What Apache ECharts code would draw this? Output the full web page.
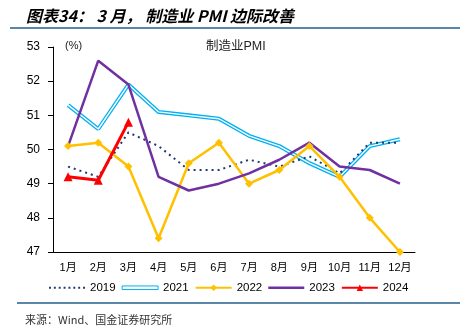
<!DOCTYPE html>
<html><head><meta charset="utf-8">
<script src="https://cdn.jsdelivr.net/npm/echarts@6/dist/echarts.min.js"></script>
<style>html,body{margin:0;padding:0;background:#fff}#c{width:460px;height:330px}</style>
</head><body><div id="c"></div>
<script>
const months = ['1月','2月','3月','4月','5月','6月','7月','8月','9月','10月','11月','12月'];
const yTicks = [47,48,49,50,51,52,53];
const s2019 = [49.5,49.2,50.5,50.1,49.4,49.4,49.7,49.5,49.8,49.3,50.2,50.2];
const s2021 = [51.3,50.6,51.9,51.1,51.0,50.9,50.4,50.1,49.6,49.2,50.1,50.3];
const s2022 = [50.1,50.2,49.5,47.4,49.6,50.2,49.0,49.4,50.1,49.2,48.0,47.0];
const s2023 = [50.1,52.6,51.9,49.2,48.8,49.0,49.3,49.7,50.2,49.5,49.4,49.0];
const s2024 = [49.2,49.1,50.8];

let dots = '';
for (let i = 0; i < 8; i++) dots += 'M' + (i*5) + ',0h2v2h-2z';
const chart = echarts.init(document.getElementById('c'), null, {renderer:'canvas'});
const font = 'Arial, "Liberation Sans", "Noto Sans CJK SC", sans-serif';
chart.setOption({
  animation:false,
  backgroundColor:'#fff',
  textStyle:{fontFamily:font},
  title:[
    {text:'图表34： 3 月， 制造业 PMI 边际改善', left:21, top:3,
     textStyle:{fontSize:16, fontWeight:'bold', fontStyle:'italic', color:'#000', fontFamily:'"Noto Sans CJK SC", sans-serif'}},
    {text:'制造业PMI', left:201, top:35, textStyle:{fontSize:12.5, fontWeight:'normal', color:'#222', fontFamily:font}},
    {text:'(%)', left:60, top:35, textStyle:{fontSize:11, fontWeight:'normal', color:'#222', fontFamily:font}},
    {text:'来源：Wind、国金证券研究所', left:20, top:309, textStyle:{fontSize:11, fontWeight:'normal', color:'#333', fontFamily:'"Noto Sans CJK SC", monospace'}}
  ],
  graphic:[
    {type:'line', shape:{x1:10,y1:28,x2:460,y2:28}, style:{stroke:'#5A86A8', lineWidth:2}},
    {type:'line', shape:{x1:17,y1:303,x2:460,y2:303}, style:{stroke:'#5A86A8', lineWidth:2}}
  ],
  grid:{left:53, right:45, top:47, bottom:78},
  legend:{
    top:277, left:44, itemWidth:36, itemHeight:8, itemGap:6,
    textStyle:{fontSize:11.5, color:'#000'},
    data:[
      {name:'2019', icon:'path://' + dots, itemStyle:{color:'#1F3A6E'}},
      {name:'2021', icon:'path://M0,0H40V4H0Z', itemStyle:{color:'#fff', borderColor:'#00B0F0', borderWidth:1}},
      {name:'2022'},
      {name:'2023', icon:'path://M0,0H40V3H0Z', itemStyle:{color:'#7030A0'}},
      {name:'2024'}
    ]
  },
  xAxis:{type:'category', data:months, boundaryGap:true,
    axisLine:{lineStyle:{color:'#000'}},
    axisTick:{alignWithLabel:false, length:5, interval:0, lineStyle:{color:'#000'}},
    axisLabel:{fontSize:11, color:'#000', margin:10, interval:0}},
  yAxis:{type:'value', min:47, max:53, interval:1,
    axisLine:{show:true, lineStyle:{color:'#000'}},
    axisTick:{show:true, length:5, lineStyle:{color:'#000'}},
    axisLabel:{fontSize:12, color:'#000', margin:13},
    splitLine:{show:false}},
  series:[
    {name:'2019', type:'line', data:s2019, symbol:'none', z:3,
     lineStyle:{color:'#1F3A6E', width:2, type:[2,4]}, itemStyle:{color:'#1F3A6E'}},
    {name:'2021', type:'line', data:s2021, symbol:'none', z:2,
     lineStyle:{color:'#00B0F0', width:4}, itemStyle:{color:'#00B0F0'}},
    {name:'2021w', type:'line', data:s2021, symbol:'none', z:2, silent:true,
     lineStyle:{color:'#fff', width:1.4}},
    {name:'2022', type:'line', data:s2022, symbol:'diamond', symbolSize:8, z:4,
     lineStyle:{color:'#FFC000', width:2.5}, itemStyle:{color:'#FFC000'}},
    {name:'2023', type:'line', data:s2023, symbol:'none', z:4,
     lineStyle:{color:'#7030A0', width:2.5}, itemStyle:{color:'#7030A0'}},
    {name:'2024', type:'line', data:s2024, symbol:'triangle', symbolSize:9, z:5,
     lineStyle:{color:'#FF0000', width:3}, itemStyle:{color:'#FF0000'}}
  ]
});
</script></body></html>
